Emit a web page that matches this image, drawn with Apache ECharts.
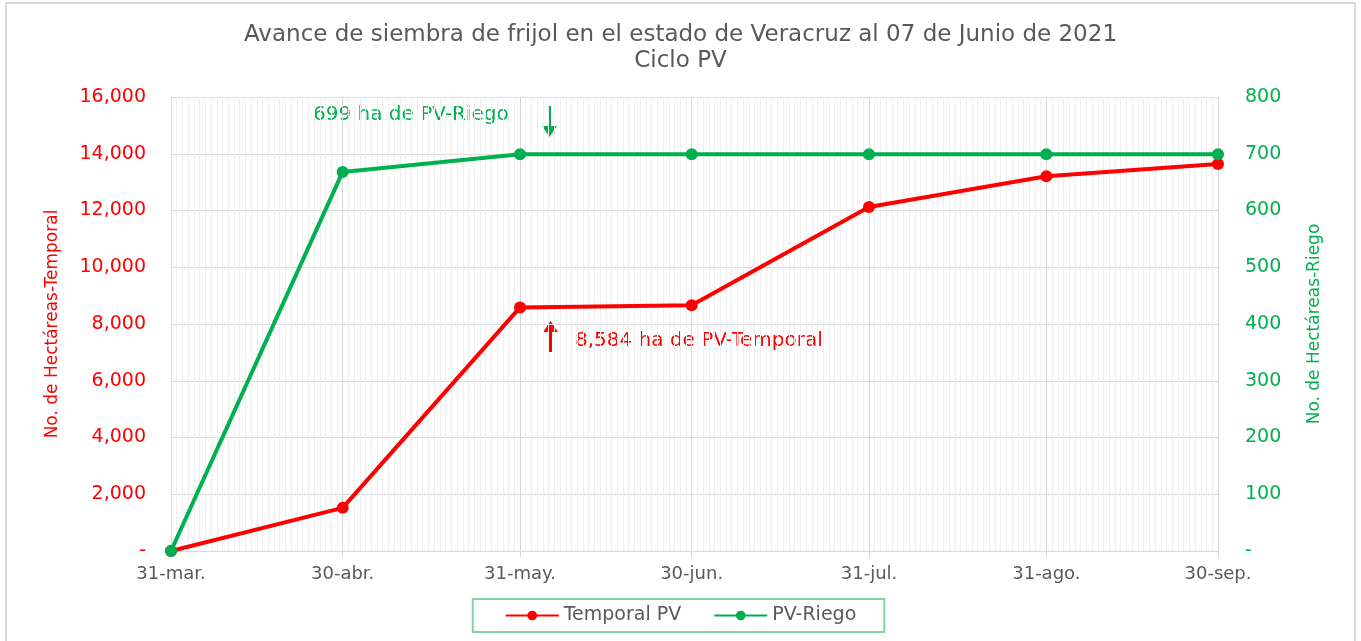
<!DOCTYPE html>
<html>
<head>
<meta charset="utf-8">
<script src="https://cdn.jsdelivr.net/npm/echarts@6/dist/echarts.min.js"></script>
<style>
  html, body { margin: 0; padding: 0; background: #fff; }
  #chart { width: 1361px; height: 641px; }
</style>
</head>
<body>
<div id="chart"></div>
<script>
// fechas de corte (etiquetas del eje x)
const tickLabels = ['31-mar.', '30-abr.', '31-may.', '30-jun.', '31-jul.', '31-ago.', '30-sep.']
// hectáreas sembradas
const temporalPV = [0, 1520, 8584, 8660, 12120, 13210, 13640]
const riegoPV = [0, 668, 699, 699, 699, 699, 699]
const leftTicks = [0, 2000, 4000, 6000, 8000, 10000, 12000, 14000, 16000]
const rightTicks = [0, 100, 200, 300, 400, 500, 600, 700, 800]

const meses = ['ene', 'feb', 'mar', 'abr', 'may', 'jun', 'jul', 'ago', 'sep', 'oct', 'nov', 'dic']
// una categoría por día, para las líneas finas del fondo
const dias = []
for (let d = new Date(2021, 2, 31); d <= new Date(2021, 8, 30); d.setDate(d.getDate() + 1)) {
  dias.push(d.getDate() + '-' + meses[d.getMonth()] + '.')
}
const isTick = (i) => tickLabels.indexOf(dias[i]) !== -1

const FONT = 'DejaVu Sans'
const RED = '#ff0000'
const GREEN = '#00b050'
const GRAY = '#595959'

const chart = echarts.init(document.getElementById('chart'))

const titleStyle = {
  color: GRAY,
  fontSize: 23,
  fontWeight: 'normal',
  fontFamily: FONT
}

const option = {
  animation: false,
  textStyle: { fontFamily: FONT },
  title: [
    {
      text: 'Avance de siembra de frijol en el estado de Veracruz al 07 de Junio de 2021',
      left: 'center',
      top: 19,
      textStyle: titleStyle
    },
    {
      text: 'Ciclo PV',
      left: 'center',
      top: 45,
      textStyle: titleStyle
    }
  ],
  legend: {
    bottom: 9,
    left: 'center',
    data: ['Temporal PV', 'PV-Riego'],
    borderColor: '#80d4a3',
    borderWidth: 2,
    padding: [7, 28, 7, 32],
    itemWidth: 53,
    itemHeight: 12,
    itemGap: 32,
    textStyle: { color: GRAY, fontSize: 19 }
  },
  grid: {
    left: 171,
    right: 143,
    top: 97,
    bottom: 90
  },
  xAxis: [
    {
      type: 'category',
      data: dias,
      boundaryGap: false,
      axisLine: { lineStyle: { color: '#d9d9d9', width: 1 } },
      axisTick: {
        interval: (i) => isTick(i),
        length: 6,
        lineStyle: { color: '#d9d9d9' }
      },
      axisLabel: {
        interval: (i) => isTick(i),
        color: GRAY,
        fontSize: 18,
        margin: 14
      },
      splitLine: {
        show: true,
        interval: 0,
        lineStyle: { color: '#efefef', width: 1 }
      }
    },
    {
      type: 'category',
      data: dias,
      boundaryGap: false,
      position: 'bottom',
      axisLine: { show: false },
      axisTick: { show: false },
      axisLabel: { show: false },
      splitLine: {
        show: true,
        interval: (i) => isTick(i),
        lineStyle: { color: '#d9d9d9', width: 1 }
      }
    }
  ],
  yAxis: [
    {
      type: 'value',
      min: leftTicks[0],
      max: leftTicks[leftTicks.length - 1],
      interval: leftTicks[1] - leftTicks[0],
      name: 'No. de Hectáreas-Temporal',
      nameLocation: 'middle',
      nameGap: 110,
      nameTextStyle: { color: RED, fontSize: 17 },
      axisLine: { show: false },
      axisTick: { show: false },
      axisLabel: {
        color: RED,
        fontSize: 19,
        margin: 25,
        formatter: (v) => v === 0 ? '-' : v.toLocaleString('en-US')
      },
      splitLine: { lineStyle: { color: '#d9d9d9', width: 1 } }
    },
    {
      type: 'value',
      min: rightTicks[0],
      max: rightTicks[rightTicks.length - 1],
      interval: rightTicks[1] - rightTicks[0],
      name: 'No. de Hectáreas-Riego',
      nameLocation: 'middle',
      nameGap: 88,
      nameTextStyle: { color: GREEN, fontSize: 17 },
      axisLine: { show: false },
      axisTick: { show: false },
      axisLabel: {
        color: GREEN,
        fontSize: 19,
        margin: 27,
        formatter: (v) => v === 0 ? '-' : String(v)
      },
      splitLine: { show: false }
    }
  ],
  series: [
    {
      name: 'Temporal PV',
      type: 'line',
      xAxisIndex: 0,
      yAxisIndex: 0,
      data: tickLabels.map((t, i) => [t, temporalPV[i]]),
      symbol: 'circle',
      symbolSize: 12,
      lineStyle: { color: RED, width: 4 },
      itemStyle: { color: RED },
      z: 3
    },
    {
      name: 'PV-Riego',
      type: 'line',
      xAxisIndex: 0,
      yAxisIndex: 1,
      data: tickLabels.map((t, i) => [t, riegoPV[i]]),
      symbol: 'circle',
      symbolSize: 12,
      lineStyle: { color: GREEN, width: 4 },
      itemStyle: { color: GREEN },
      z: 4
    }
  ],
  graphic: [
    {
      type: 'rect',
      shape: { x: 6, y: 3, width: 1349, height: 660 },
      style: { fill: 'none', stroke: '#d9d9d9', lineWidth: 2 },
      silent: true
    },
    {
      type: 'text',
      left: 313,
      top: 105,
      style: { text: '699 ha de PV-Riego', fill: GREEN, fontSize: 20, fontFamily: FONT }
    },
    {
      type: 'group',
      left: 542,
      top: 106,
      children: [
        { type: 'rect', shape: { x: 6, y: 0, width: 3, height: 21 }, style: { fill: GREEN } },
        { type: 'polygon', shape: { points: [[0, 20], [15, 20], [7.5, 31]] }, style: { fill: GREEN } }
      ]
    },
    {
      type: 'text',
      left: 575,
      top: 331,
      style: { text: '8,584 ha de PV-Temporal', fill: RED, fontSize: 20, fontFamily: FONT }
    },
    {
      type: 'group',
      left: 543,
      top: 321,
      children: [
        { type: 'rect', shape: { x: 6, y: 10, width: 3, height: 21 }, style: { fill: RED } },
        { type: 'polygon', shape: { points: [[0, 11], [15, 11], [7.5, 0]] }, style: { fill: RED } }
      ]
    }
  ]
}

chart.setOption(option)
</script>
</body>
</html>
